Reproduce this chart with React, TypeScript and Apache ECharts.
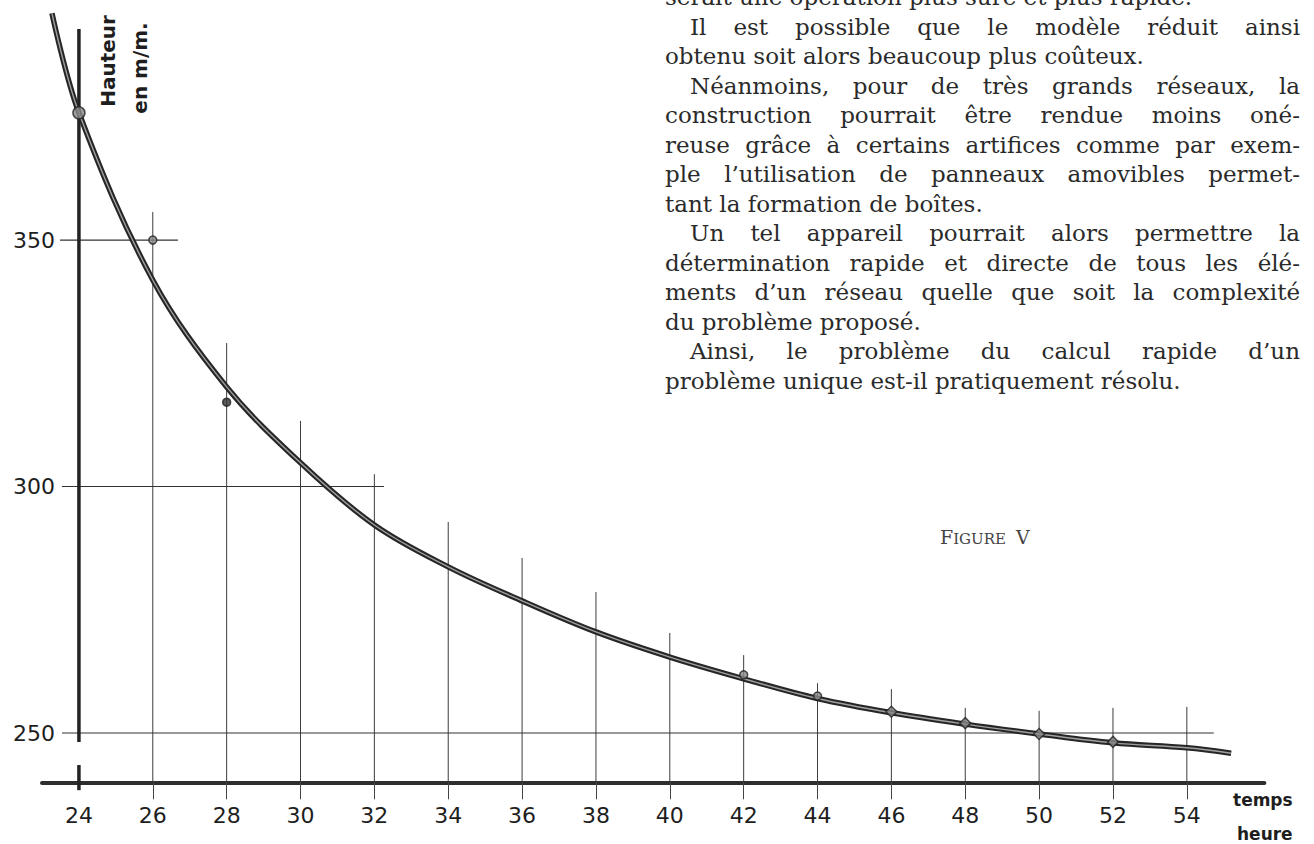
import React, { useEffect, useRef } from "react";
import * as echarts from "echarts";

// ---- data ----
const labelHours = [24, 26, 28, 30, 32, 34, 36, 38, 40, 42, 44, 46, 48, 50, 52, 54];
const tickHours = [26, 28, 30, 32, 34, 36, 38, 40, 42, 44, 46, 48, 50, 52, 54];
const heightTicks = [250, 300, 350];

const curveHours = [23.27, 24, 26, 28, 30, 32, 34, 36, 38, 40, 42, 44, 46, 48, 50, 52, 54, 55.2];
const curveHeights = [396.0, 375.8, 341.9, 320.2, 304.8, 292.2, 283.7, 276.8, 270.5, 265.4, 261.0, 257.0, 254.1, 251.8, 249.8, 248.0, 247.0, 245.9];

const obsHours = [24, 26, 28, 42, 44, 46, 48, 50, 52];
const obsHeights = [375.8, 350, 317.1, 261.8, 257.5, 254.3, 252.0, 249.8, 248.2];
const obsSymbols = ["circle", "circle", "circle", "circle", "circle", "diamond", "diamond", "diamond", "diamond"];

const dropHours = [26, 28, 30, 32, 34, 36, 38, 40, 42, 44, 46, 48, 50, 52, 54];
const dropTops = [355.7, 329.1, 313.3, 302.5, 292.8, 285.5, 278.6, 270.3, 265.8, 260.1, 258.9, 255.1, 254.5, 255.1, 255.3];

const refLevels = [350, 300, 250];
const refFrom = [23.49, 23.54, 23.54];
const refTo = [26.68, 32.26, 54.73];

const axisHour = 24;
const axisBottom = 248.2;
const axisTop = 392.8;
const axisStubLow = 238.4;
const axisStubHigh = 243.5;

const xMin = 23;
const xMax = 56.1;
const yMin = 240;
const yMax = 398;

const bodyLines = [
  "serait une opération plus sûre et plus rapide.",
  "Il est possible que le modèle réduit ainsi",
  "obtenu soit alors beaucoup plus coûteux.",
  "Néanmoins, pour de très grands réseaux, la",
  "construction pourrait être rendue moins oné-",
  "reuse grâce à certains artifices comme par exem-",
  "ple l’utilisation de panneaux amovibles permet-",
  "tant la formation de boîtes.",
  "Un tel appareil pourrait alors permettre la",
  "détermination rapide et directe de tous les élé-",
  "ments d’un réseau quelle que soit la complexité",
  "du problème proposé.",
  "Ainsi, le problème du calcul rapide d’un",
  "problème unique est-il pratiquement résolu.",
];
const bodyIndent = [false, true, false, true, false, false, false, false, true, false, false, false, true, false];
const bodyJustify = [false, true, false, true, true, true, true, false, true, true, true, false, true, false];

const BODY_FONT_SIZE = 23;
const BODY_FONT = `${BODY_FONT_SIZE}px "DejaVu Serif"`;

let measureCtx: CanvasRenderingContext2D | null = null;
function measure(text: string, font: string): number {
  if (!measureCtx) measureCtx = document.createElement("canvas").getContext("2d");
  if (!measureCtx) return text.length * 11.5;
  measureCtx.font = font;
  return measureCtx.measureText(text).width;
}

function lineRender(color: string, width: number) {
  return (_params: any, api: any) => {
    const p1 = api.coord([api.value(0), api.value(1)]);
    const p2 = api.coord([api.value(2), api.value(3)]);
    return {
      type: "line",
      shape: { x1: p1[0], y1: p1[1], x2: p2[0], y2: p2[1] },
      style: { stroke: color, lineWidth: width },
    };
  };
}

export default function App() {
  const ref = useRef<HTMLDivElement>(null);

  useEffect(() => {
    document.body.style.margin = "0";
    if (!ref.current) return;
    const chart = echarts.init(ref.current, undefined, { renderer: "svg" });

    const curveData = curveHours.map((h, i) => [h, curveHeights[i]]);
    const obsData = obsHours.map((h, i) => ({
      value: [h, obsHeights[i]],
      symbol: obsSymbols[i],
      symbolSize: i === 0 ? 12 : obsSymbols[i] === "diamond" ? 11 : 8,
      itemStyle: i === 2 ? { color: "#333" } : undefined,
    }));
    const dropData = dropHours.map((h, i) => [h, yMin, h, dropTops[i]]);
    const refData = refLevels.map((v, i) => [refFrom[i], v, refTo[i], v]);
    const axisData = [[axisHour, axisBottom, axisHour, axisTop], [axisHour, axisStubLow, axisHour, axisStubHigh]];

    // body text, justified word by word
    const textLeft = 665;
    const textRight = 1300;
    const indentW = 25;
    const lineGap = 29.5;
    const firstY = -3;
    const spaceW = measure(" ", BODY_FONT) || 7.3;
    const textEls: any[] = [];
    bodyLines.forEach((t, i) => {
      const left = textLeft + (bodyIndent[i] ? indentW : 0);
      const words = t.split(/\s+/).filter((w) => w.length > 0);
      const widths = words.map((w) => measure(w, BODY_FONT));
      const total = widths.reduce((a, b) => a + b, 0);
      let gap = spaceW;
      if (bodyJustify[i] && words.length > 1) gap = (textRight - left - total) / (words.length - 1);
      let x = left;
      const y = firstY + i * lineGap;
      words.forEach((w, k) => {
        textEls.push({
          type: "text",
          x,
          y,
          style: {
            text: w,
            fontSize: BODY_FONT_SIZE,
            fontFamily: "DejaVu Serif",
            fill: "#2a2a2a",
            align: "left",
            verticalAlign: "middle",
          },
        });
        x += widths[k] + gap;
      });
    });

    chart.setOption({
      animation: false,
      backgroundColor: "#ffffff",
      grid: { left: 42, right: 1314 - 42 - (xMax - xMin) * 36.93, top: 3.4, bottom: 61.7 },
      xAxis: {
        type: "value",
        min: xMin,
        max: xMax,
        axisLine: { onZero: false, lineStyle: { color: "#2e2e2e", width: 4 } },
        axisTick: { show: true, customValues: tickHours, length: 17, lineStyle: { color: "#444", width: 1 } },
        axisLabel: {
          customValues: labelHours,
          fontSize: 22,
          fontFamily: "DejaVu Sans",
          color: "#1e1e1e",
          margin: 22,
        },
        splitLine: { show: false },
      },
      yAxis: {
        type: "value",
        min: yMin,
        max: yMax,
        offset: -15,
        axisLine: { show: false },
        axisTick: { show: false },
        splitLine: { show: false },
        axisLabel: {
          customValues: heightTicks,
          fontSize: 22,
          fontFamily: "DejaVu Sans",
          color: "#1e1e1e",
          margin: 2,
          padding: [0, 0, 12, 0],
        },
      },
      series: [
        { type: "custom", renderItem: lineRender("#3c3c3c", 1), data: dropData, encode: { x: [0, 2], y: [1, 3] }, clip: false, z: 1 },
        { type: "custom", renderItem: lineRender("#333", 1.2), data: refData, encode: { x: [0, 2], y: [1, 3] }, clip: false, z: 1 },
        { type: "custom", renderItem: lineRender("#222", 3.5), data: axisData, encode: { x: [0, 2], y: [1, 3] }, clip: false, z: 2 },
        {
          type: "line",
          data: curveData,
          smooth: 0.35,
          symbol: "none",
          lineStyle: { color: "#262626", width: 5.5 },
          z: 3,
        },
        {
          type: "line",
          data: curveData,
          smooth: 0.35,
          symbol: "none",
          lineStyle: { color: "#a0a0a0", width: 1.4 },
          z: 4,
        },
        {
          type: "scatter",
          data: obsData,
          itemStyle: { color: "#8a8a8a", borderColor: "#222", borderWidth: 1.5 },
          z: 5,
        },
      ],
      graphic: [
        {
          type: "text",
          x: 108,
          y: 61,
          rotation: Math.PI / 2,
          style: { text: "Hauteur", fontSize: 20, fontWeight: "bold", fontFamily: "DejaVu Sans", fill: "#1e1e1e", align: "center", verticalAlign: "middle" },
        },
        {
          type: "text",
          x: 140,
          y: 68,
          rotation: Math.PI / 2,
          style: { text: "en m/m.", fontSize: 20, fontWeight: "bold", fontFamily: "DejaVu Sans", fill: "#1e1e1e", align: "center", verticalAlign: "middle" },
        },
        {
          type: "text",
          x: 1233,
          y: 800,
          style: { text: "temps", fontSize: 17, fontWeight: "bold", fontFamily: "DejaVu Sans", fill: "#1e1e1e", align: "left", verticalAlign: "middle" },
        },
        {
          type: "text",
          x: 1237,
          y: 834,
          style: { text: "heure", fontSize: 17, fontWeight: "bold", fontFamily: "DejaVu Sans", fill: "#1e1e1e", align: "left", verticalAlign: "middle" },
        },
        {
          type: "text",
          x: 940,
          y: 535,
          style: {
            text: "{b|F}{s|IGURE}   {b|V}",
            align: "left",
            verticalAlign: "middle",
            rich: {
              b: { fontSize: 19, fontFamily: "DejaVu Serif", fill: "#444", color: "#444", lineHeight: 22, verticalAlign: "bottom" },
              s: { fontSize: 15, fontFamily: "DejaVu Serif", fill: "#444", color: "#444", lineHeight: 22, verticalAlign: "bottom" },
            },
          },
        },
        ...textEls,
      ],
    });

    return () => chart.dispose();
  }, []);

  return <div ref={ref} style={{ width: 1314, height: 844 }} />;
}
